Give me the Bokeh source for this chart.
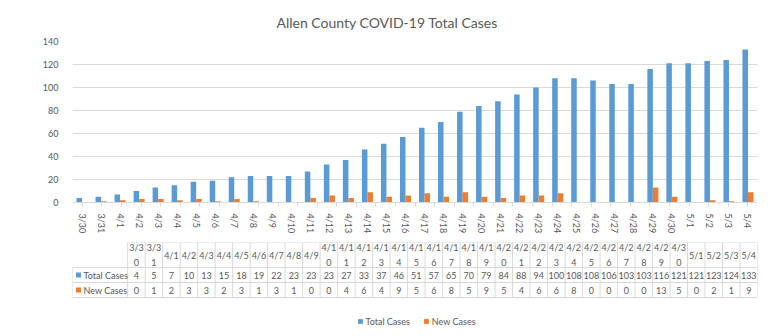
import numpy as np
from bokeh.plotting import figure
from bokeh.models import (Range1d, FactorRange, FixedTicker, CategoricalAxis,
                          ColumnDataSource, Legend, LegendItem)
from bokeh.transform import dodge
from bokeh.layouts import column
from bokeh.embed import file_html
from bokeh.resources import INLINE
from bokeh.core.properties import value

# ---------------- data ----------------
dates = ["3/30", "3/31", "4/1", "4/2", "4/3", "4/4", "4/5", "4/6", "4/7", "4/8", "4/9",
         "4/10", "4/11", "4/12", "4/13", "4/14", "4/15", "4/16", "4/17", "4/18", "4/19",
         "4/20", "4/21", "4/22", "4/23", "4/24", "4/25", "4/26", "4/27", "4/28", "4/29",
         "4/30", "5/1", "5/2", "5/3", "5/4"]
total_cases = [4, 5, 7, 10, 13, 15, 18, 19, 22, 23, 23, 23, 27, 33, 37, 46, 51, 57, 65, 70,
               79, 84, 88, 94, 100, 108, 108, 106, 103, 103, 116, 121, 121, 123, 124, 133]
new_cases = [0, 1, 2, 3, 3, 2, 3, 1, 3, 1, 0, 0, 4, 6, 4, 9, 5, 6, 8, 5,
             9, 5, 4, 6, 6, 8, 0, 0, 0, 0, 13, 5, 0, 2, 1, 9]
y_ticks = [0, 20, 40, 60, 80, 100, 120, 140]
series_names = ["Total Cases", "New Cases"]
title_text = "Allen County COVID-19 Total Cases"

# ---------------- style ----------------
FONT = "Lato"
GREY = "#595959"
GRID = "#d9d9d9"
BLUE = "#5B9BD5"
ORANGE = "#ED7D31"
n = len(dates)

# ---------------- chart ----------------
p = figure(width=768, height=236, x_range=FactorRange(*dates), y_range=Range1d(0, 140),
           output_backend="svg", toolbar_location=None, x_axis_location=None,
           min_border_left=72, min_border_right=11, min_border_top=41, min_border_bottom=28,
           title=title_text)
p.title.align = "left"
p.title.offset = 204
p.title.standoff = 21
p.title.text_font = FONT
p.title.text_font_size = "14px"
p.title.text_font_style = "normal"
p.title.text_color = GREY

p.outline_line_color = None
p.xgrid.grid_line_color = None
p.ygrid.grid_line_color = GRID
p.ygrid.ticker = FixedTicker(ticks=y_ticks)

p.yaxis.ticker = FixedTicker(ticks=y_ticks)
p.yaxis.axis_line_color = None
p.yaxis.major_tick_line_color = None
p.yaxis.minor_tick_line_color = None
p.yaxis.major_label_text_font = FONT
p.yaxis.major_label_text_font_size = "9px"
p.yaxis.major_label_text_color = GREY
p.yaxis.major_label_standoff = 8

src = ColumnDataSource(dict(date=dates, total=total_cases, new=new_cases))
bw = 0.29
p.vbar(x=dodge("date", -bw / 2, range=p.x_range), top="total", width=bw, source=src,
       fill_color=BLUE, line_color=None)
p.vbar(x=dodge("date", bw / 2, range=p.x_range), top="new", width=bw, source=src,
       fill_color=ORANGE, line_color=None)

# category boundaries (for the small tick marks between dates)
bounds = [f"b{i}" for i in range(n + 1)]
p.extra_x_ranges = {"bnd": FactorRange(*bounds, range_padding=-1, range_padding_units="absolute")}
tick_axis = CategoricalAxis(x_range_name="bnd", axis_line_color=GRID,
                            major_tick_line_color=GRID, major_tick_out=4, major_tick_in=0,
                            major_label_text_font_size="0px", major_label_text_alpha=0,
                            major_label_standoff=0)
p.add_layout(tick_axis, "below")
lab_axis = CategoricalAxis(axis_line_color=None, major_tick_line_color=None,
                           major_label_orientation="vertical", major_label_text_font=FONT,
                           major_label_text_font_size="9px", major_label_text_color=GREY,
                           major_label_standoff=1)
p.add_layout(lab_axis, "below")

# ---------------- data table ----------------
L = 60 * n / 685.0  # width of the row-label column, in category units
q = figure(width=768, height=100, x_range=Range1d(-L, n), y_range=Range1d(-94, 0),
           output_backend="svg", toolbar_location=None, x_axis_location=None,
           y_axis_location=None, min_border_left=12, min_border_right=11,
           min_border_top=6, min_border_bottom=0)
q.outline_line_color = None
q.xgrid.grid_line_color = None
q.ygrid.grid_line_color = None

row_y = [0, -25, -40, -55]
q.segment(x0=[0, -L, -L, -L], y0=row_y, x1=[n] * 4, y1=row_y, line_color=GRID, line_width=1)
vx = list(range(n + 1)) + [-L]
q.segment(x0=vx, y0=[0] * (n + 1) + [-25], x1=vx, y1=[-55] * (n + 2),
          line_color=GRID, line_width=1)

cx = np.arange(n) + 0.5
hdr = [d if len(d) <= 3 else d[:3] + "\n" + d[3:] for d in dates]
common = dict(text_align="center", text_baseline="middle", text_font=value(FONT),
              text_font_size="9px", text_color=GREY)
q.text(x=cx, y=-12.5, text=hdr, text_line_height=1.35, **common)
q.text(x=cx, y=-32.5, text=[str(v) for v in total_cases], **common)
q.text(x=cx, y=-47.5, text=[str(v) for v in new_cases], **common)

px = 19.03
sq1 = q.scatter(x=[-L + 6.5 / px], y=[-32.5], marker="square", size=5, fill_color=BLUE, line_color=None)
sq2 = q.scatter(x=[-L + 6.5 / px], y=[-47.5], marker="square", size=5, fill_color=ORANGE, line_color=None)
q.text(x=[-L + 12 / px] * 2, y=[-32.5, -47.5], text=series_names, text_align="left",
       text_baseline="middle", text_font=value(FONT), text_font_size="9px", text_color=GREY)

leg = Legend(items=[LegendItem(label=series_names[0], renderers=[sq1]),
                    LegendItem(label=series_names[1], renderers=[sq2])],
             location="bottom_center", orientation="horizontal", border_line_color=None,
             background_fill_alpha=0, label_text_font=FONT, label_text_font_size="9px",
             label_text_color=GREY, glyph_width=12, glyph_height=12, label_height=12,
             label_standoff=0, spacing=10, padding=0, margin=9)
q.add_layout(leg)

layout = column(p, q)
open("out.html", "w").write(file_html(layout, INLINE))
